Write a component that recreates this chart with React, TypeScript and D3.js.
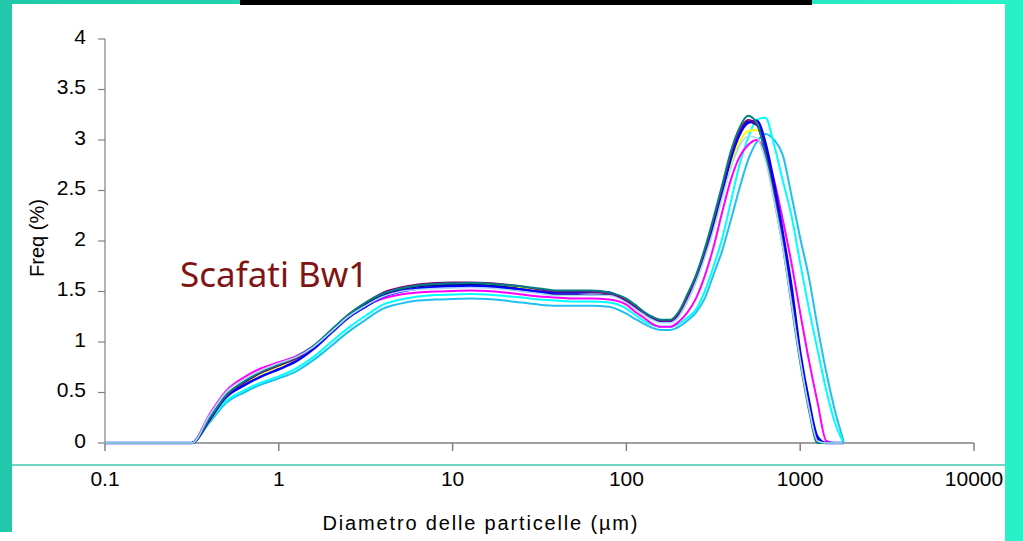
import React from 'react';
import * as d3 from 'd3';

// Particle diameters (µm) of the size classes
const diameters = [
  0.1, 0.316, 0.398, 0.501, 0.631, 0.794, 1, 1.26, 1.58, 2, 2.51, 3.16, 3.98, 5.01, 6.31, 7.94,
  10, 12.6, 15.8, 20, 25.1, 31.6, 39.8, 50.1, 63.1, 79.4, 100, 112, 126, 141, 158, 178, 200, 224,
  251, 282, 316, 355, 398, 447, 501, 562, 631, 708, 794, 891, 1000, 1122, 1259, 1413, 1585, 1778,
];

const skyValues = [0, 0, 0.20, 0.40, 0.50, 0.58, 0.64, 0.71, 0.82, 0.96, 1.10, 1.22, 1.33, 1.38, 1.41, 1.42, 1.425, 1.43, 1.425, 1.41, 1.39, 1.37, 1.36, 1.36, 1.36, 1.35, 1.28, 1.23, 1.18, 1.14, 1.12, 1.12, 1.15, 1.21, 1.29, 1.43, 1.66, 1.90, 2.20, 2.52, 2.80, 2.98, 3.06, 3.00, 2.85, 2.45, 2.03, 1.64, 1.15, 0.70, 0.32, 0.02];
const cyanValues = [0, 0, 0.22, 0.42, 0.52, 0.60, 0.66, 0.74, 0.85, 1.00, 1.14, 1.26, 1.37, 1.42, 1.45, 1.465, 1.47, 1.475, 1.47, 1.455, 1.44, 1.42, 1.41, 1.40, 1.40, 1.39, 1.33, 1.27, 1.21, 1.17, 1.15, 1.15, 1.18, 1.24, 1.32, 1.50, 1.74, 2.02, 2.38, 2.75, 3.02, 3.20, 3.22, 2.95, 2.60, 2.25, 1.78, 1.33, 0.92, 0.52, 0.20, 0];
const magentaValues = [0, 0, 0.28, 0.52, 0.65, 0.74, 0.80, 0.86, 0.96, 1.10, 1.25, 1.36, 1.43, 1.47, 1.49, 1.50, 1.505, 1.51, 1.505, 1.49, 1.47, 1.45, 1.44, 1.43, 1.43, 1.42, 1.37, 1.30, 1.24, 1.18, 1.15, 1.15, 1.20, 1.29, 1.43, 1.65, 1.93, 2.28, 2.60, 2.83, 2.95, 3.00, 2.88, 2.60, 2.21, 1.78, 1.29, 0.82, 0.40, 0.02, 0, 0];
const yellowValues = [0, 0, 0.23, 0.47, 0.59, 0.69, 0.76, 0.83, 0.94, 1.10, 1.26, 1.37, 1.47, 1.53, 1.56, 1.57, 1.575, 1.58, 1.575, 1.56, 1.54, 1.52, 1.50, 1.495, 1.50, 1.49, 1.41, 1.35, 1.29, 1.24, 1.21, 1.21, 1.27, 1.42, 1.61, 1.85, 2.13, 2.44, 2.75, 2.98, 3.09, 3.10, 2.92, 2.52, 2.04, 1.50, 0.88, 0.40, 0.05, 0, 0, 0];
const lightValues = [0, 0, 0.27, 0.51, 0.63, 0.72, 0.79, 0.85, 0.95, 1.10, 1.25, 1.36, 1.45, 1.50, 1.52, 1.53, 1.535, 1.54, 1.535, 1.52, 1.50, 1.48, 1.46, 1.46, 1.465, 1.46, 1.39, 1.33, 1.27, 1.22, 1.19, 1.19, 1.25, 1.40, 1.59, 1.83, 2.10, 2.42, 2.72, 2.94, 3.04, 3.02, 2.80, 2.40, 1.94, 1.38, 0.82, 0.35, 0.02, 0, 0, 0];
const navyValues = [0, 0, 0.22, 0.47, 0.60, 0.70, 0.77, 0.84, 0.95, 1.11, 1.26, 1.37, 1.47, 1.52, 1.55, 1.56, 1.565, 1.57, 1.56, 1.545, 1.52, 1.49, 1.47, 1.47, 1.47, 1.47, 1.40, 1.34, 1.28, 1.23, 1.20, 1.20, 1.26, 1.41, 1.61, 1.86, 2.15, 2.47, 2.82, 3.07, 3.18, 3.15, 2.92, 2.50, 2.00, 1.45, 0.85, 0.38, 0.04, 0, 0, 0];
const blueValues = [0, 0, 0.24, 0.46, 0.57, 0.66, 0.73, 0.81, 0.93, 1.09, 1.24, 1.35, 1.45, 1.50, 1.53, 1.545, 1.55, 1.555, 1.55, 1.535, 1.52, 1.50, 1.49, 1.49, 1.50, 1.49, 1.40, 1.34, 1.29, 1.24, 1.21, 1.20, 1.27, 1.43, 1.63, 1.87, 2.16, 2.48, 2.81, 3.05, 3.17, 3.19, 2.97, 2.57, 2.08, 1.55, 0.90, 0.42, 0.06, 0, 0, 0];
const purpleValues = [0, 0, 0.23, 0.47, 0.60, 0.70, 0.77, 0.84, 0.95, 1.11, 1.27, 1.39, 1.49, 1.54, 1.57, 1.585, 1.59, 1.59, 1.585, 1.57, 1.55, 1.52, 1.50, 1.50, 1.50, 1.48, 1.41, 1.35, 1.29, 1.24, 1.21, 1.21, 1.28, 1.44, 1.64, 1.89, 2.19, 2.52, 2.85, 3.09, 3.20, 3.15, 2.88, 2.46, 1.98, 1.42, 0.83, 0.36, 0.02, 0, 0, 0];
const tealValues = [0, 0, 0.24, 0.48, 0.61, 0.71, 0.78, 0.85, 0.96, 1.12, 1.27, 1.39, 1.48, 1.53, 1.56, 1.575, 1.58, 1.585, 1.58, 1.565, 1.55, 1.53, 1.51, 1.51, 1.51, 1.49, 1.43, 1.37, 1.30, 1.25, 1.22, 1.22, 1.30, 1.47, 1.66, 1.92, 2.22, 2.55, 2.88, 3.12, 3.24, 3.17, 2.85, 2.42, 1.95, 1.37, 0.80, 0.33, 0, 0, 0, 0];

const seriesList = [skyValues, cyanValues, magentaValues, yellowValues, navyValues, blueValues, purpleValues, tealValues, lightValues];
const seriesColors = ['#20c0f0', '#00ffff', '#ff00ff', '#ffff00', '#000080', '#0000ff', '#800080', '#008080', '#a8d8f8'];
const seriesWidths = [2, 2, 2, 2, 2, 2.5, 1.8, 2, 1.6];

const xTicks = [0.1, 1, 10, 100, 1000, 10000];
const xTickLabels = ['0.1', '1', '10', '100', '1000', '10000'];
const yTicks = [0, 0.5, 1, 1.5, 2, 2.5, 3, 3.5, 4];
const yTickLabels = ['0', '0.5', '1', '1.5', '2', '2.5', '3', '3.5', '4'];

const title = 'Scafati Bw1';
const xTitle = 'Diametro delle particelle (µm)';
const yTitle = 'Freq (%)';

export default function App() {
  const W = 1023;
  const H = 541;
  const x = d3.scaleLog().domain([0.1, 10000]).range([105, 974]);
  const y = d3.scaleLinear().domain([0, 4]).range([443, 39]);
  const line = d3
    .line<number>()
    .x((_, i) => x(diameters[i]))
    .y((v) => y(v))
    .curve(d3.curveMonotoneX);
  const font = '"Liberation Sans", Arial, sans-serif';
  const axisColor = '#808080';

  return (
    <svg width={W} height={H} style={{ position: 'absolute', left: 0, top: 0, display: 'block' }}>
      <defs>
        <linearGradient id="topbar" x1="0" x2="1" y1="0" y2="0">
          <stop offset="0" stopColor="#20c8a8" />
          <stop offset="1" stopColor="#28f0c8" />
        </linearGradient>
      </defs>
      <rect x={0} y={0} width={W} height={H} fill="#ffffff" />
      {/* frame */}
      <rect x={0} y={0} width={1005} height={4} fill="url(#topbar)" />
      <rect x={0} y={0} width={12} height={532} fill="#22c8aa" />
      <rect x={1005} y={0} width={18} height={H} fill="#28f0c9" />
      <rect x={240} y={0} width={572} height={5} fill="#000000" />
      <line x1={12} x2={1005} y1={465} y2={465} stroke="#3cc8b0" strokeWidth={1.5} />

      {/* axes */}
      <line x1={x(0.1)} x2={x(0.1)} y1={y(4)} y2={y(0)} stroke={axisColor} strokeWidth={1.2} />
      <line x1={x(0.1)} x2={x(10000)} y1={y(0)} y2={y(0)} stroke={axisColor} strokeWidth={1.5} />
      {yTicks.map((t, i) => (
        <g key={'y' + i}>
          <line x1={x(0.1) - 7} x2={x(0.1)} y1={y(t)} y2={y(t)} stroke={axisColor} strokeWidth={1.2} />
          <text x={86} y={y(t) + 4.5} textAnchor="end" fontFamily={font} fontSize={21} fill="#000">
            {yTickLabels[i]}
          </text>
        </g>
      ))}
      {xTicks.map((t, i) => (
        <g key={'x' + i}>
          <line x1={x(t)} x2={x(t)} y1={y(0)} y2={y(0) + 8} stroke={axisColor} strokeWidth={1.5} />
          <text x={x(t)} y={486} textAnchor="middle" fontFamily={font} fontSize={21} fill="#000">
            {xTickLabels[i]}
          </text>
        </g>
      ))}

      {/* series */}
      {seriesList.map((vals, i) => (
        <path
          key={'s' + i}
          d={line(vals) || ''}
          fill="none"
          stroke={seriesColors[i]}
          strokeWidth={seriesWidths[i]}
          strokeLinejoin="round"
        />
      ))}

      {/* titles */}
      <text x={180} y={287} fontFamily='"Noto Sans", sans-serif' fontSize={35} fill="#801414">
        {title}
      </text>
      <text
        x={480}
        y={530}
        textAnchor="middle"
        fontFamily={font}
        fontSize={20}
        textLength={315}
        lengthAdjust="spacing"
        fill="#000"
      >
        {xTitle}
      </text>
      <text
        transform={`translate(37,238) rotate(-90)`}
        textAnchor="middle"
        dominantBaseline="central"
        fontFamily={font}
        fontSize={20}
        fill="#000"
      >
        {yTitle}
      </text>
    </svg>
  );
}
